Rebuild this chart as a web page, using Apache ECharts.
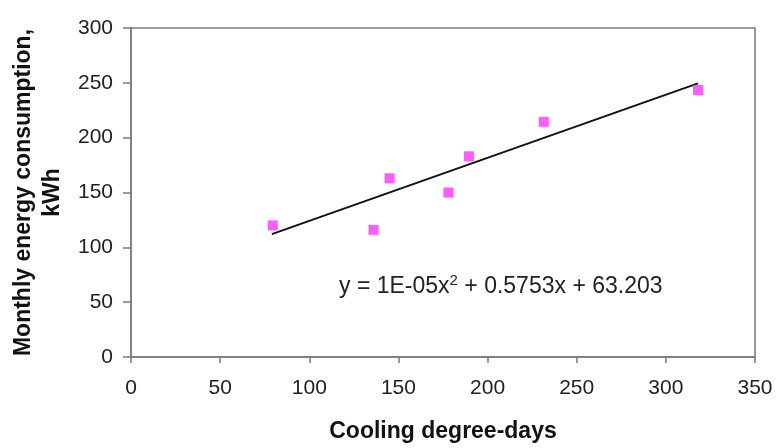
<!DOCTYPE html>
<html><head><meta charset="utf-8">
<script src="https://cdn.jsdelivr.net/npm/echarts@6/dist/echarts.min.js"></script>
<style>html,body{margin:0;padding:0;background:#fff}#c{width:776px;height:448px}</style>
</head><body><div id="c"></div>
<script>
const cdd = [79.5, 136, 145, 178, 189.5, 231.5, 318];
const kwh = [120, 116, 163, 150, 183, 214.5, 243.5];
const trendX = [79, 318];
const trendY = [112, 249.5];
const xTicks = [0, 50, 100, 150, 200, 250, 300, 350];
const yTicks = [0, 50, 100, 150, 200, 250, 300];
const equation = 'y = 1E-05x{s|2} + 0.5753x + 63.203';

const chart = echarts.init(document.getElementById('c'));
const font = '"Liberation Sans", Arial, sans-serif';
chart.setOption({
  animation: false,
  grid: {left: 131, right: 21, top: 28, bottom: 91, show: true, borderColor: '#7a7a7a', borderWidth: 1.5,
         backgroundColor: '#fff', containLabel: false, outerBoundsMode: 'none'},
  xAxis: {
    type: 'value', min: xTicks[0], max: xTicks[xTicks.length-1], interval: 50,
    name: 'Cooling degree-days', nameLocation: 'middle', nameGap: 63,
    nameTextStyle: {fontFamily: font, fontWeight: 'bold', fontSize: 23, color: '#111'},
    axisLine: {show: true, lineStyle: {color: '#7a7a7a', width: 1.5}},
    axisTick: {show: true, length: 6, lineStyle: {color: '#7a7a7a', width: 1.5}},
    axisLabel: {fontFamily: font, fontSize: 21, color: '#222', margin: 21},
    splitLine: {show: false}
  },
  yAxis: {
    type: 'value', min: yTicks[0], max: yTicks[yTicks.length-1], interval: 50,
    name: 'Monthly energy consumption,\nkWh', nameLocation: 'middle', nameGap: 62,
    nameTextStyle: {fontFamily: font, fontWeight: 'bold', fontSize: 23, color: '#111', lineHeight: 29},
    axisLine: {show: true, lineStyle: {color: '#7a7a7a', width: 1.5}},
    axisTick: {show: true, length: 8, lineStyle: {color: '#7a7a7a', width: 1.5}},
    axisLabel: {fontFamily: font, fontSize: 21, color: '#222', margin: 18},
    splitLine: {show: false}
  },
  series: [
    {type: 'line', data: trendX.map((x, i) => [x, trendY[i]]), symbol: 'none',
     lineStyle: {color: '#111', width: 2}, z: 2},
    {type: 'scatter', data: cdd.map((x, i) => [x, kwh[i]]), symbol: 'rect', symbolSize: 10,
     itemStyle: {color: '#ff33ff'}, z: 3}
  ],
  graphic: [{
    type: 'text', left: 339, top: 273,
    style: {text: equation, fontFamily: font, fontSize: 23, fill: '#222',
      rich: {s: {fontSize: 15, verticalAlign: 'top', padding: [0,0,12,0], fontFamily: font, fill: '#222'}}}
  }]
});
</script></body></html>
